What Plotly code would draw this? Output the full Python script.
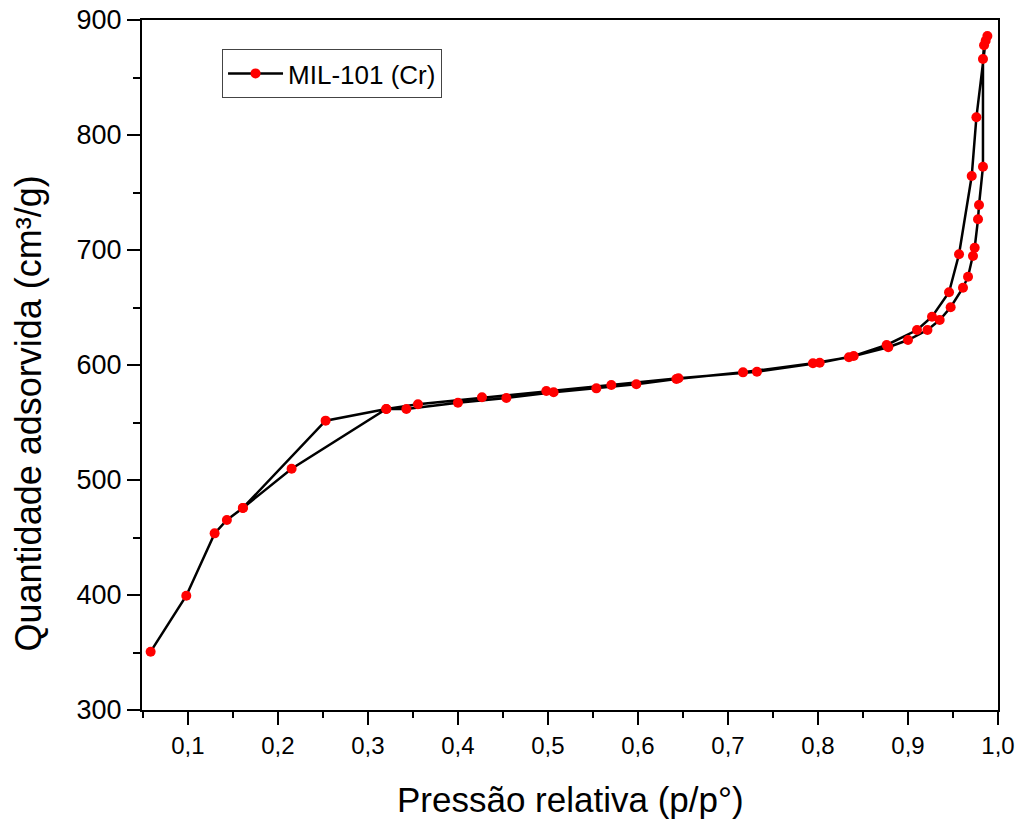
import plotly.graph_objects as go

# N2 isotherm of MIL-101 (Cr): adsorption branch then desorption branch
p_ads = [0.0586, 0.0982, 0.1297, 0.1433, 0.1611, 0.2152, 0.3204, 0.3427, 0.4000,
         0.4538, 0.5063, 0.5538, 0.5982, 0.6427, 0.7167, 0.7944, 0.8344, 0.8781,
         0.9000, 0.9216, 0.9352, 0.9474, 0.9611, 0.9667, 0.9722, 0.9741, 0.9778,
         0.9789, 0.9833, 0.9833, 0.9845, 0.9882]
v_ads = [350.7, 399.4, 453.6, 465.2, 475.7, 509.8, 561.7, 561.7, 567.2,
         571.3, 576.3, 579.7, 583.2, 587.8, 593.6, 601.5, 606.7, 615.4,
         621.7, 630.4, 639.1, 650.2, 667.2, 676.8, 694.8, 702.0, 726.7,
         739.1, 772.4, 866.1, 878.0, 886.1]

p_des = [0.9863, 0.9760, 0.9708, 0.9567, 0.9456, 0.9267, 0.9100, 0.8763, 0.8397,
         0.8019, 0.7322, 0.6450, 0.5704, 0.4982, 0.4267, 0.3556, 0.3204, 0.2530,
         0.1611]
v_des = [882.0, 815.4, 764.3, 696.3, 663.2, 642.0, 630.4, 617.4, 607.8,
         602.0, 594.2, 588.5, 582.6, 577.4, 571.9, 565.8, 561.7, 551.6,
         475.7]

x_ticks = [0.1, 0.2, 0.3, 0.4, 0.5, 0.6, 0.7, 0.8, 0.9, 1.0]
y_ticks = [300, 400, 500, 600, 700, 800, 900]

FONT = "Liberation Sans, Arial, sans-serif"

fig = go.Figure()
fig.add_trace(go.Scatter(
    x=p_ads + p_des,
    y=v_ads + v_des,
    mode="lines+markers",
    name="MIL-101 (Cr)",
    line=dict(color="black", width=2.5),
    marker=dict(color="#ff0000", size=10, line=dict(width=0)),
))

axis_common = dict(
    showline=True, linecolor="black", linewidth=2, mirror=True,
    ticks="outside", ticklen=13, tickwidth=2, tickcolor="black",
    showgrid=False, zeroline=False, automargin=False,
)

fig.update_xaxes(
    range=[0.049, 1.0], tickvals=x_ticks, tickformat=".1f",
    tickfont=dict(family=FONT, size=24, color="black"),
    minor=dict(dtick=0.05, tick0=0.05, ticks="outside", ticklen=6,
               tickwidth=2, tickcolor="black"),
    **axis_common,
)
fig.update_yaxes(
    range=[300, 900], tickvals=y_ticks,
    tickfont=dict(family=FONT, size=27, color="black"),
    minor=dict(dtick=50, tick0=300, ticks="outside", ticklen=7,
               tickwidth=2, tickcolor="black"),
    **axis_common,
)

fig.add_annotation(
    text="Quantidade adsorvida (cm³/g)", textangle=-90,
    xref="paper", yref="paper", x=-0.133, y=0.43,
    xanchor="center", yanchor="middle", showarrow=False,
    font=dict(family=FONT, size=36, color="black"),
)
fig.add_annotation(
    text="Pressão relativa (p/p°)",
    xref="paper", yref="paper", x=0.5, y=-0.130,
    xanchor="center", yanchor="middle", showarrow=False,
    font=dict(family=FONT, size=35, color="black"),
)

fig.update_layout(
    width=1024, height=819,
    margin=dict(l=142, r=26, t=20, b=109),
    paper_bgcolor="white", plot_bgcolor="white",
    separators=",.",
    showlegend=True,
    legend=dict(
        x=0.0935, y=0.958, xanchor="left", yanchor="top",
        bgcolor="white", bordercolor="#444", borderwidth=1,
        font=dict(family=FONT, size=26, color="black"),
        itemwidth=55, tracegroupgap=0,
    ),
)

fig.write_html("out.html")
